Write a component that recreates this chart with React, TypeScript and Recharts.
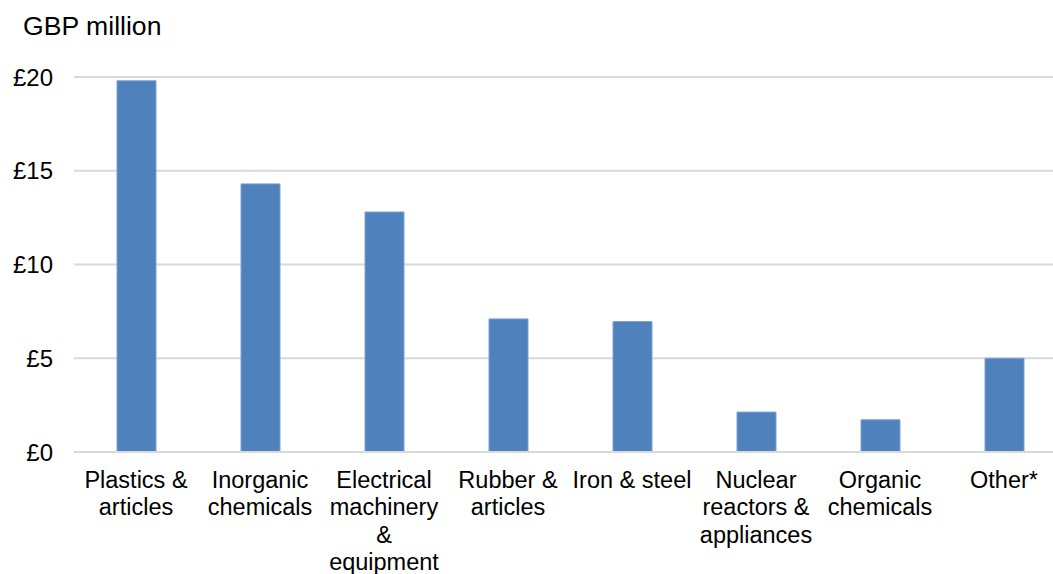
import React from 'react';
import { BarChart, Bar, XAxis, YAxis, CartesianGrid } from 'recharts';

// Product groups, one label line per entry
const categories = [
  ['Plastics &', 'articles'],
  ['Inorganic', 'chemicals'],
  ['Electrical', 'machinery', '&', 'equipment'],
  ['Rubber &', 'articles'],
  ['Iron & steel'],
  ['Nuclear', 'reactors &', 'appliances'],
  ['Organic', 'chemicals'],
  ['Other*'],
];

// GBP million
const values = [19.8, 14.3, 12.8, 7.1, 6.96, 2.13, 1.72, 5.0];

const yTicks = [0, 5, 10, 15, 20];

const data = categories.map((lines, i) => ({
  name: lines.join(' '),
  lines,
  value: values[i],
}));

const FONT = '"Liberation Sans", Arial, sans-serif';

const CategoryTick = (props: any) => {
  const { x, y, index } = props;
  const lines: string[] = data[index]?.lines ?? [];
  return (
    <text x={x} y={y} textAnchor="middle" fontSize={23.5} fontFamily={FONT} fill="#000">
      {lines.map((line, i) => (
        <tspan key={i} x={x} dy={i === 0 ? 36 : 27.3}>
          {line}
        </tspan>
      ))}
    </text>
  );
};

export default function App() {
  return (
    <div
      style={{
        position: 'absolute',
        left: 0,
        top: 0,
        width: 1053,
        height: 574,
        overflow: 'hidden',
        background: '#fff',
      }}
    >
      <svg width={300} height={50} style={{ position: 'absolute', left: 0, top: 0 }}>
        <text x={23} y={35} fontFamily={FONT} fontSize={26.6} fill="#000">
          GBP million
        </text>
      </svg>
      <BarChart
        width={1066}
        height={574}
        data={data}
        margin={{ top: 77, right: 0, bottom: 0, left: 0 }}
        barSize={39}
      >
        <CartesianGrid vertical={false} stroke="#d9d9d9" strokeWidth={2} />
        <XAxis
          dataKey="name"
          height={122}
          axisLine={{ stroke: '#d9d9d9', strokeWidth: 2 }}
          tickLine={false}
          tickSize={0}
          tickMargin={0}
          interval={0}
          tick={<CategoryTick />}
        />
        <YAxis
          width={74}
          domain={[0, 20]}
          ticks={yTicks}
          axisLine={false}
          tickLine={false}
          tickSize={0}
          tickMargin={21}
          tickFormatter={(v: number) => `£${v}`}
          tick={{ fontSize: 24, fontFamily: FONT, fill: '#000' }}
        />
        <Bar
          dataKey="value"
          fill="#4f81bd"
          stroke="#7fa3d3"
          strokeWidth={1}
          isAnimationActive={false}
        />
      </BarChart>
    </div>
  );
}
